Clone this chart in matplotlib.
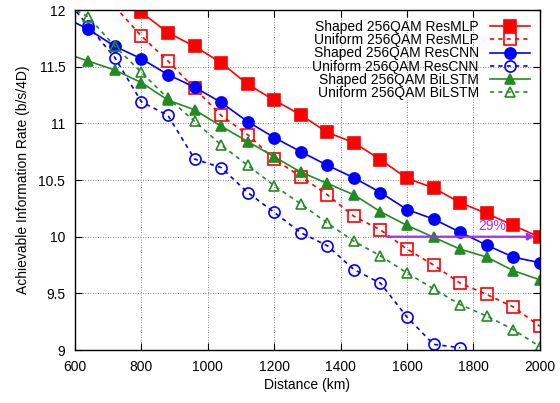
import numpy as np
import matplotlib
matplotlib.use("Agg")
import matplotlib.pyplot as plt

plt.rcParams['font.family'] = ['Liberation Sans', 'DejaVu Sans']
plt.rcParams['font.size'] = 10

# Distance points (km)
dist = [560, 640, 720, 800, 880, 960, 1040, 1120, 1200, 1280, 1360,
        1440, 1520, 1600, 1680, 1760, 1840, 1920, 2000]

# values (None = not shown)
shaped_mlp = [None, None, None, 11.98, 11.80, 11.68, 11.535, 11.345, 11.205, 11.075, 10.92,
              10.83, 10.68, 10.515, 10.43, 10.30, 10.205, 10.10, 9.995]
uniform_mlp = [None, None, 12.03, 11.77, 11.55, 11.31, 11.07, 10.90, 10.685, 10.53, 10.37,
               10.18, 10.06, 9.89, 9.75, 9.59, 9.49, 9.38, 9.21]
shaped_cnn = [11.95, 11.83, 11.68, 11.57, 11.43, 11.32, 11.185, 11.015, 10.875, 10.75, 10.63,
              10.52, 10.39, 10.24, 10.155, 10.04, 9.925, 9.82, 9.77]
uniform_cnn = [12.14, 11.86, 11.58, 11.19, 11.07, 10.685, 10.61, 10.39, 10.215, 10.035, 9.92,
               9.71, 9.59, 9.29, 9.05, 9.02, None, None, None]
shaped_lstm = [11.63, 11.55, 11.47, 11.36, 11.205, 11.12, 10.975, 10.84, 10.705, 10.57, 10.47,
               10.37, 10.22, 10.10, 9.995, 9.89, 9.82, 9.70, 9.62]
uniform_lstm = [12.06, 11.94, 11.68, 11.45, 11.22, 11.02, 10.81, 10.63, 10.45, 10.29, 10.12,
                9.96, 9.83, 9.68, 9.54, 9.40, 9.30, 9.18, 9.03]

labels = ['Shaped 256QAM ResMLP', 'Uniform 256QAM ResMLP',
          'Shaped 256QAM ResCNN', 'Uniform 256QAM ResCNN',
          'Shaped 256QAM BiLSTM', 'Uniform 256QAM BiLSTM']

red = '#ff0000'
blue = '#0000ff'
green = '#228b22'
purple = '#a030f0'


def xy(vals):
    x = np.array([d for d, v in zip(dist, vals) if v is not None])
    y = np.array([v for v in vals if v is not None])
    # markers only for points inside the plot range
    shown = [i for i, (a, b) in enumerate(zip(x, y)) if a >= 600 and b <= 12.0]
    return x, y, shown


fig = plt.figure(figsize=(5.6, 4.03), dpi=100)
ax = fig.add_axes([0.134, 0.1315, 0.83, 0.8435])

dash = (0, (2.5, 2.5))
series = [
    (shaped_mlp, '-', red, 's', 8, True),
    (uniform_mlp, dash, red, 's', 8, False),
    (shaped_cnn, '-', blue, 'o', 8, True),
    (uniform_cnn, dash, blue, 'o', 8, False),
    (shaped_lstm, '-', green, '^', 7, True),
    (uniform_lstm, dash, green, '^', 7.5, False),
]
for (vals, ls, c, m, ms, filled), lab in zip(series, labels):
    x, y, shown = xy(vals)
    ax.plot(x, y, linestyle=ls, color=c, lw=1.2, marker=m, ms=ms,
            mfc=c if filled else 'none', mew=1.2, markevery=shown, label=lab)

# 29% arrow
ax.annotate('', xy=(1985, 10.0), xytext=(1540, 10.0),
            arrowprops=dict(arrowstyle='-|>', color=purple, lw=1.6, linestyle=(0, (1, 0.6)),
                            mutation_scale=10, shrinkA=0, shrinkB=0))
ax.text(1855, 10.03, '29%', color=purple, fontsize=10, ha='center', va='bottom')

ax.set_xlim(600, 2000)
ax.set_ylim(9, 12)
ax.set_xticks(range(600, 2001, 200))
ax.set_yticks([9, 9.5, 10, 10.5, 11, 11.5, 12])
ax.set_yticklabels(['9', '9.5', '10', '10.5', '11', '11.5', '12'])
ax.grid(True, color='#666666', linestyle=(0, (1, 2)), lw=0.6)
ax.tick_params(direction='in', top=True, right=True, length=5, labelsize=10, pad=7)
for s in ax.spines.values():
    s.set_linewidth(1.0)

ax.set_xlabel('Distance (km)', fontsize=10, labelpad=3)
ax.set_ylabel('Achievable Information Rate (b/s/4D)', fontsize=10, labelpad=6)

leg = ax.legend(loc='upper right', frameon=False, markerfirst=False, handlelength=2.9,
                labelspacing=-0.05, borderaxespad=0.3, handletextpad=0.8,
                fontsize=10)
for t in leg.get_texts():
    t.set_ha('right')
leg.set_zorder(5)

fig.savefig('out.png', dpi=100)
